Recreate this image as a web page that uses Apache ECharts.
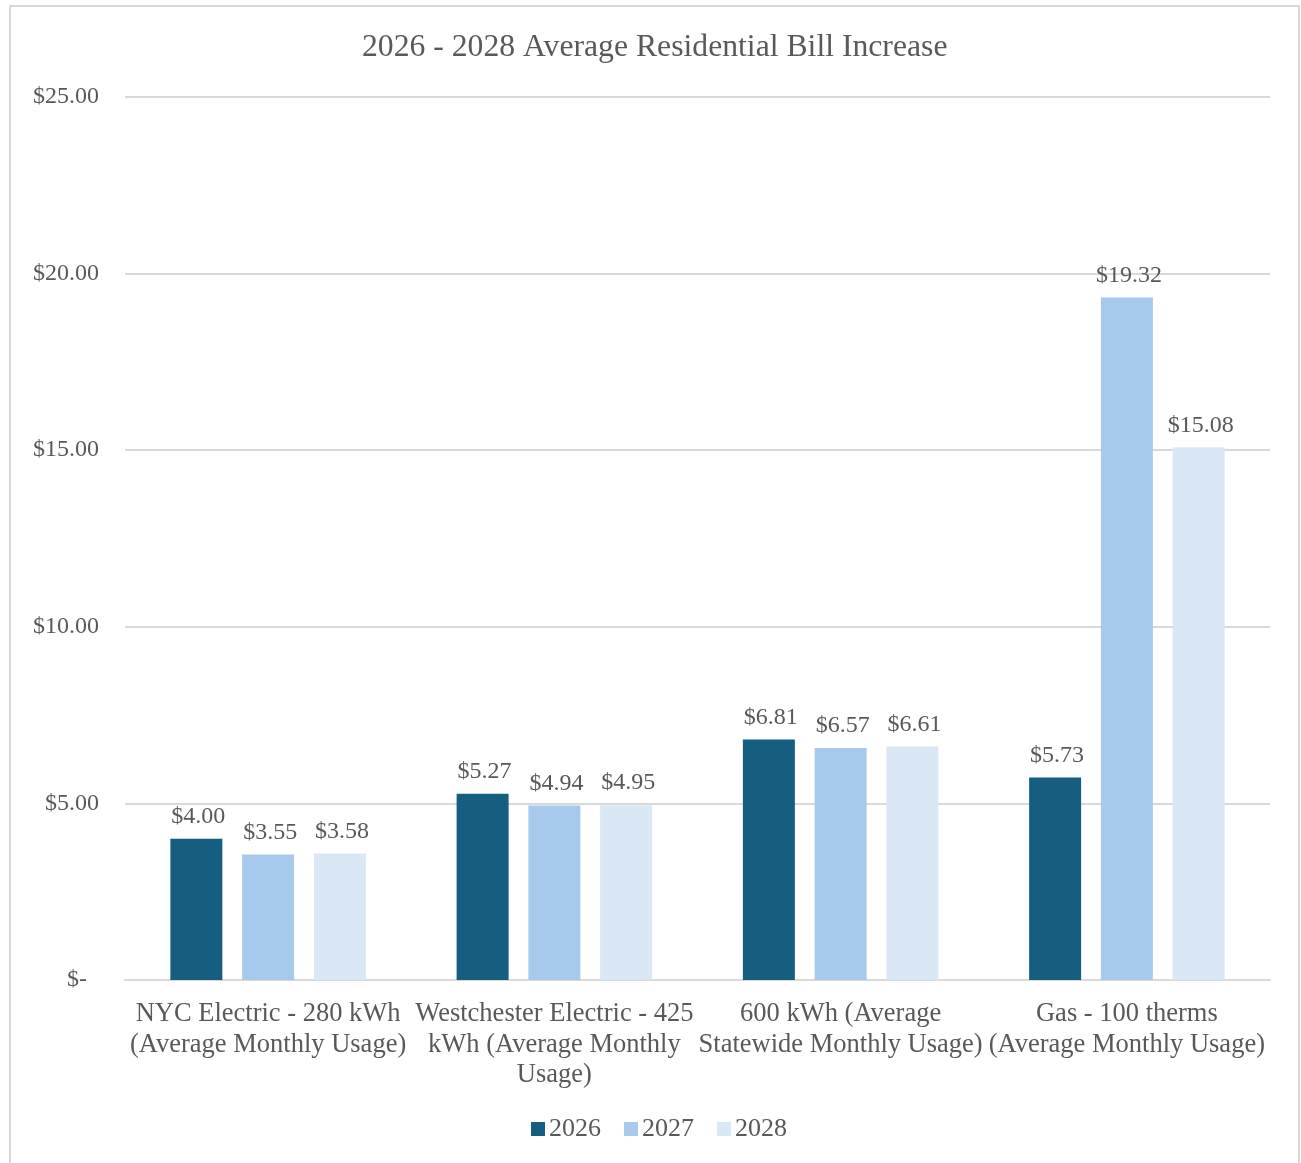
<!DOCTYPE html>
<html>
<head>
<meta charset="utf-8">
<script src="https://cdn.jsdelivr.net/npm/echarts@6/dist/echarts.min.js"></script>
<style>
  html, body { margin: 0; padding: 0; background: #fff; }
  #chart { width: 1301px; height: 1163px; }
</style>
</head>
<body>
<div id="chart"></div>
<script>
// Usage categories (line breaks as wrapped under the axis)
const categories = [
  'NYC Electric - 280 kWh\n(Average Monthly Usage)',
  'Westchester Electric - 425\nkWh (Average Monthly\nUsage)',
  '600 kWh (Average\nStatewide Monthly Usage)',
  'Gas - 100 therms\n(Average Monthly Usage)'
];
const years = ['2026', '2027', '2028'];
// Monthly bill increase per category, in dollars
const values2026 = [4.00, 5.27, 6.81, 5.73];
const values2027 = [3.55, 4.94, 6.57, 19.32];
const values2028 = [3.58, 4.95, 6.61, 15.08];
const yTicks = [0, 5, 10, 15, 20, 25];

const FONT = "'Liberation Serif', 'Times New Roman', serif";
const TEXT = '#595959';
const colors = ['#165e80', '#a7caec', '#dae8f6'];
const seriesValues = [values2026, values2027, values2028];

const chart = echarts.init(document.getElementById('chart'), null, { renderer: 'canvas' });

const money = v => (v === 0 ? '$-  ' : '$' + v.toFixed(2));

chart.setOption({
  animation: false,
  backgroundColor: '#ffffff',
  textStyle: { fontFamily: FONT, color: TEXT },
  graphic: [{
    type: 'rect',
    silent: true,
    shape: { x: 10, y: 6, width: 1289, height: 1200 },
    style: { fill: 'none', stroke: '#d9d9d9', lineWidth: 2 }
  }],
  title: {
    text: '2026 - 2028 Average Residential Bill Increase',
    left: 357,
    top: 27,
    textStyle: { fontFamily: FONT, fontSize: 31.7, fontWeight: 'normal', color: TEXT }
  },
  legend: {
    data: years,
    bottom: 16,
    left: 526,
    itemWidth: 14,
    itemHeight: 14,
    itemGap: 23,
    icon: 'rect',
    textStyle: { fontFamily: FONT, fontSize: 26, color: TEXT, padding: [0, 0, 0, -1] }
  },
  grid: { left: 125, right: 31, top: 97, bottom: 183, containLabel: false },
  xAxis: {
    type: 'category',
    data: categories,
    axisLine: { lineStyle: { color: '#d9d9d9', width: 2 } },
    axisTick: { show: false },
    axisLabel: {
      interval: 0,
      margin: 19,
      fontFamily: FONT,
      fontSize: 26.5,
      lineHeight: 30.5,
      color: TEXT,
      align: 'center'
    }
  },
  yAxis: {
    type: 'value',
    min: yTicks[0],
    max: yTicks[yTicks.length - 1],
    interval: yTicks[1] - yTicks[0],
    axisLine: { show: false },
    axisTick: { show: false },
    splitLine: { lineStyle: { color: '#d9d9d9', width: 2 } },
    axisLabel: {
      margin: 26,
      fontFamily: FONT,
      fontSize: 24,
      color: TEXT,
      formatter: money
    }
  },
  series: years.map((y, i) => ({
    name: y,
    type: 'bar',
    data: seriesValues[i],
    barWidth: 52,
    barGap: '38%',
    itemStyle: { color: colors[i] },
    label: {
      show: true,
      position: 'top',
      distance: 10,
      offset: [2, 0],
      fontFamily: FONT,
      fontSize: 24,
      color: TEXT,
      formatter: p => money(p.value)
    }
  }))
});
</script>
</body>
</html>
